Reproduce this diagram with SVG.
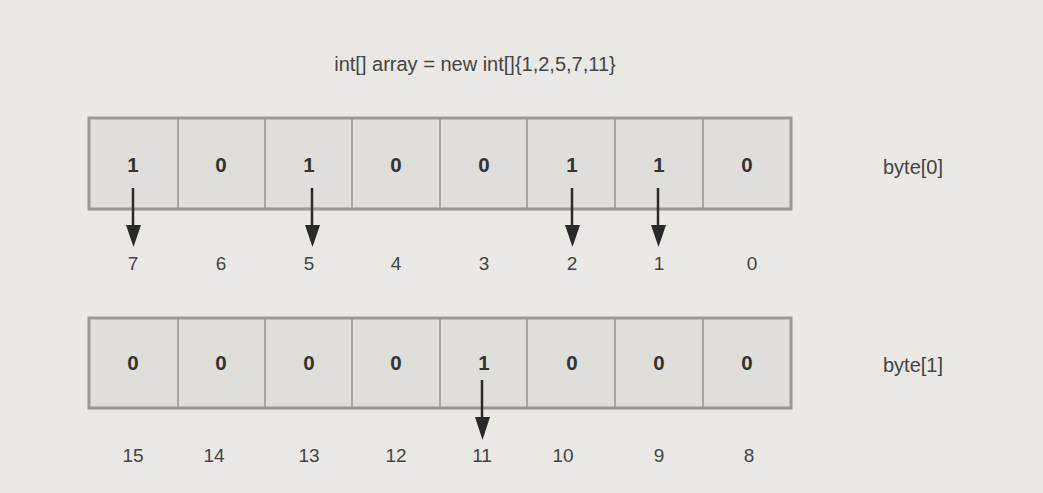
<svg xmlns="http://www.w3.org/2000/svg" width="1043" height="493" viewBox="0 0 1043 493">
<style>
.bg{fill:#e9e8e5}
.box{fill:#dfdedb;stroke:#999894;stroke-width:3}
.div{stroke:#999894;stroke-width:1.6}
.bit{font-family:"Liberation Sans",Arial,sans-serif;font-size:20.5px;font-weight:bold;fill:#333;text-anchor:middle}
.idx{font-family:"Liberation Sans",Arial,sans-serif;font-size:19px;fill:#444;text-anchor:middle}
.lbl{font-family:"Liberation Sans",Arial,sans-serif;font-size:20px;fill:#444;text-anchor:middle}
.arr{stroke:#2a2a2a;stroke-width:2.5;fill:none}
.head{fill:#2a2a2a}
</style>
<rect class="bg" x="0" y="0" width="1043" height="493"/>
<text class="lbl" x="475" y="71" font-size="21.5">int[] array = new int[]{1,2,5,7,11}</text>
<g id="byte0">
<rect class="box" x="89" y="118" width="702" height="91"/>
<g class="div">
<line x1="178" y1="118" x2="178" y2="209"/><line x1="265" y1="118" x2="265" y2="209"/><line x1="352" y1="118" x2="352" y2="209"/><line x1="440" y1="118" x2="440" y2="209"/><line x1="527" y1="118" x2="527" y2="209"/><line x1="615" y1="118" x2="615" y2="209"/><line x1="703" y1="118" x2="703" y2="209"/>
</g>
<text class="bit" x="133" y="172">1</text><text class="bit" x="221" y="172">0</text><text class="bit" x="309" y="172">1</text><text class="bit" x="396" y="172">0</text><text class="bit" x="484" y="172">0</text><text class="bit" x="572" y="172">1</text><text class="bit" x="659" y="172">1</text><text class="bit" x="747" y="172">0</text>
<text class="lbl" x="913" y="174">byte[0]</text>
</g>
<g id="idx0">
<text class="idx" x="133" y="270">7</text><text class="idx" x="221" y="270">6</text><text class="idx" x="309" y="270">5</text><text class="idx" x="396" y="270">4</text><text class="idx" x="484" y="270">3</text><text class="idx" x="572" y="270">2</text><text class="idx" x="659" y="270">1</text><text class="idx" x="752" y="270">0</text>
</g>
<g id="byte1">
<rect class="box" x="89" y="318" width="702" height="90"/>
<g class="div">
<line x1="178" y1="318" x2="178" y2="408"/><line x1="265" y1="318" x2="265" y2="408"/><line x1="352" y1="318" x2="352" y2="408"/><line x1="440" y1="318" x2="440" y2="408"/><line x1="527" y1="318" x2="527" y2="408"/><line x1="615" y1="318" x2="615" y2="408"/><line x1="703" y1="318" x2="703" y2="408"/>
</g>
<text class="bit" x="133" y="370">0</text><text class="bit" x="221" y="370">0</text><text class="bit" x="309" y="370">0</text><text class="bit" x="396" y="370">0</text><text class="bit" x="484" y="370">1</text><text class="bit" x="572" y="370">0</text><text class="bit" x="659" y="370">0</text><text class="bit" x="747" y="370">0</text>
<text class="lbl" x="913" y="372">byte[1]</text>
</g>
<g id="idx1">
<text class="idx" x="133" y="462">15</text><text class="idx" x="214" y="462">14</text><text class="idx" x="309" y="462">13</text><text class="idx" x="396" y="462">12</text><text class="idx" x="482" y="462">11</text><text class="idx" x="563" y="462">10</text><text class="idx" x="659" y="462">9</text><text class="idx" x="749" y="462">8</text>
</g>
<g id="connectors">
<line class="arr" x1="133" y1="188" x2="133" y2="228"/><polygon class="head" points="126,225 141,225 133.5,247"/>
<line class="arr" x1="312" y1="188" x2="312" y2="228"/><polygon class="head" points="305,225 320,225 312.5,247"/>
<line class="arr" x1="572" y1="188" x2="572" y2="228"/><polygon class="head" points="565,225 580,225 572.5,247"/>
<line class="arr" x1="658" y1="188" x2="658" y2="228"/><polygon class="head" points="651,225 666,225 658.5,247"/>
<line class="arr" x1="482" y1="380" x2="482" y2="420"/><polygon class="head" points="475,417 490,417 482.5,440"/>
</g>
</svg>
